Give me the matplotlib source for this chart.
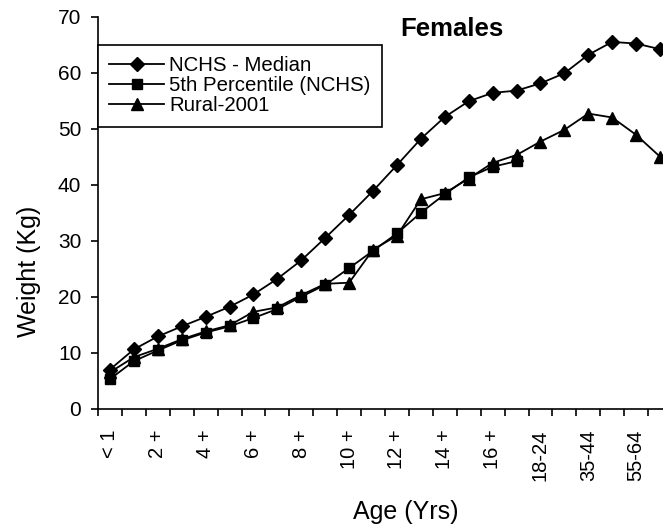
import matplotlib
matplotlib.use("Agg")
import matplotlib.pyplot as plt
import numpy as np

# age groups (only every other one gets a visible label)
ages = ["< 1", "1 +", "2 +", "3 +", "4 +", "5 +", "6 +", "7 +", "8 +", "9 +",
        "10 +", "11 +", "12 +", "13 +", "14 +", "15 +", "16 +", "17 +",
        "18-24", "25-34", "35-44", "45-54", "55-64", "65 +"]

# weights in kg
nchs_median = [7.0, 10.6, 12.9, 14.7, 16.4, 18.2, 20.4, 23.2, 26.5, 30.5,
               34.6, 38.9, 43.5, 48.2, 52.1, 54.9, 56.4, 56.8, 58.1, 59.9,
               63.2, 65.5, 65.2, 64.2]
nchs_p5 = [5.3, 8.5, 10.4, 12.2, 13.6, 14.7, 16.2, 17.8, 20.0, 22.1,
           25.1, 28.2, 31.3, 35.0, 38.3, 41.3, 43.2, 44.2]
rural_2001 = [6.5, 9.2, 10.7, 12.4, 13.8, 14.9, 17.3, 18.1, 20.3, 22.3,
              22.5, 28.4, 30.9, 37.4, 38.5, 41.1, 43.9, 45.3, 47.7, 49.8,
              52.7, 52.0, 48.9, 45.0]

plt.rcParams['font.family'] = ['Liberation Sans', 'DejaVu Sans']

W, H = 663, 529
fig = plt.figure(figsize=(W / 100, H / 100), dpi=100)
# plot area runs a bit past the right edge, like the cropped original
ax = fig.add_axes([98 / W, (H - 408.7) / H, 574 / W, 392 / H])

x = np.arange(len(ages))
style = dict(color='black', lw=1.3)
ax.plot(x, nchs_median, marker='D', ms=7, label="NCHS - Median", **style)
ax.plot(x[:len(nchs_p5)], nchs_p5, marker='s', ms=7.5, label="5th Percentile (NCHS)", **style)
ax.plot(x, rural_2001, marker='^', ms=8.5, label="Rural-2001", **style)

ax.set_xlim(-0.5, len(ages) - 0.5)
ax.set_ylim(0, 70)
ax.set_yticks(range(0, 71, 10))
ax.tick_params(axis='y', direction='out', length=5, width=1.2, labelsize=15, pad=7)

# labels at category centres, tick marks on the boundaries
ax.set_xticks(x)
ax.set_xticklabels([a if i % 2 == 0 else "" for i, a in enumerate(ages)],
                   rotation=90, fontsize=14.5)
ax.tick_params(axis='x', which='major', length=0, pad=15)
ax.set_xticks(np.arange(-0.5, len(ages), 1), minor=True)
ax.tick_params(axis='x', which='minor', direction='out', length=5, width=1.2)

for side in ['top', 'right']:
    ax.spines[side].set_visible(False)
for side in ['left', 'bottom']:
    ax.spines[side].set_linewidth(1.2)

leg = ax.legend(loc='upper left', bbox_to_anchor=(98 / W, 1 - 45 / H),
                bbox_transform=fig.transFigure, borderaxespad=0,
                fontsize=14.7, fancybox=False, framealpha=1, edgecolor='black',
                handlelength=2.7, handletextpad=0.25, labelspacing=0.05,
                borderpad=0.55)
leg.get_frame().set_linewidth(1.2)

fig.text(451.5 / W, 1 - 29.5 / H, "Females", fontsize=18.5, fontweight='bold',
         ha='center', va='center')
fig.text(406 / W, 1 - 512 / H, "Age (Yrs)", fontsize=18, ha='center', va='center')
fig.text(29 / W, 1 - 271 / H, "Weight (Kg)", fontsize=18, rotation=90,
         ha='center', va='center')

fig.savefig("out.png", dpi=100)
